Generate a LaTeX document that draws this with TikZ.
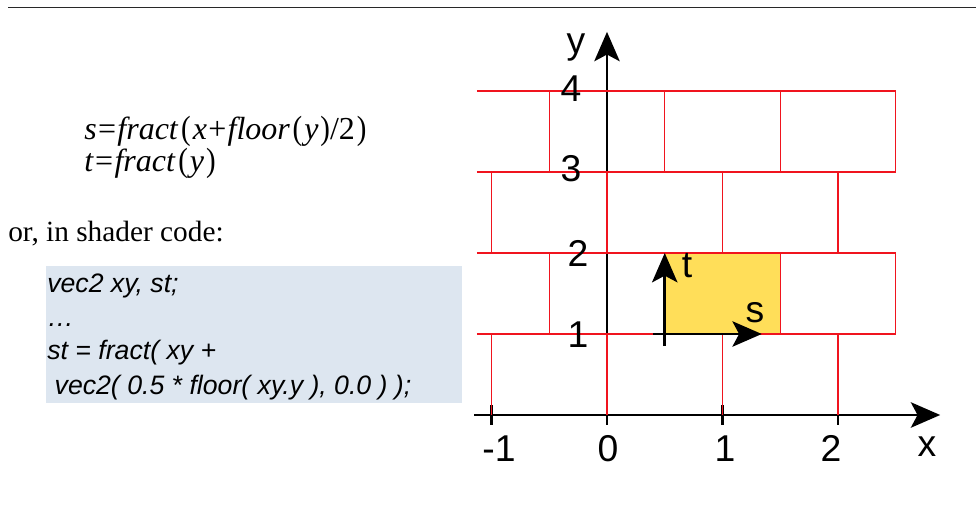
\documentclass[tikz,border=0pt]{standalone}
\usepackage{fontspec}
\setmainfont{Liberation Serif}
\setsansfont{Liberation Sans}
\usepackage{tikz}
\usetikzlibrary{arrows.meta}
\definecolor{brickred}{RGB}{240,20,30}
\definecolor{tilegold}{RGB}{255,222,89}
\definecolor{codebg}{RGB}{221,230,240}
\definecolor{rulegray}{RGB}{40,40,40}
\tikzset{
  axislabel/.style={font=\sffamily\fontsize{28}{28}\selectfont, inner sep=0pt, anchor=base},
  codeline/.style={font=\sffamily\itshape\fontsize{20}{20}\selectfont, inner sep=0pt, anchor=base west},
  formula/.style={font=\fontsize{24}{24}\selectfont, inner sep=0pt, anchor=base west},
  bigtip/.style={-{Stealth[length=22pt, width=19pt, inset=5pt]}}
}
\newcommand{\lp}{\kern2pt\scalebox{0.9}[1.05]{(}\kern1.5pt}
\newcommand{\rp}{\kern1.5pt\scalebox{0.9}[1.05]{)}}
\newcommand{\op}[1]{\kern1pt#1\kern1pt}

\begin{document}
\begin{tikzpicture}[x=0.75pt, y=-0.75pt]
  \useasboundingbox (0,0) rectangle (976,520);

  % === HEADER RULE ===
  \coordinate (ruleL) at (8,7.5);
  \coordinate (ruleR) at (976,7.5);
  \draw[line width=1.2pt, rulegray] (ruleL) -- (ruleR);

  % === FORMULAS ===
  \node[formula] (eqs) at (84,140)
    {\textit{s}\op{=}\textit{fract}\lp\textit{x}\op{+}\textit{floor}\lp\textit{y}\rp/2\rp};
  \node[formula] (eqt) at (84,172)
    {\textit{t}\op{=}\textit{fract}\lp\textit{y}\rp};

  \node[font=\fontsize{22}{22}\selectfont, inner sep=0pt, anchor=base west]
    (intro) at (8,242) {or, in shader code:};

  % Shader code box
  \fill[codebg] (46,266) rectangle (462,403);
  \foreach \yb/\txt/\nm in {
    293/{vec2 xy, st;}/cA,
    327/{…}/cB,
    360/{st = fract( xy +}/cC,
    395/{\ vec2( 0.5 * floor( xy.y ), 0.0 ) );}/cD} {
    \node[codeline] (\nm) at (47,\yb) {\txt};
  }

  % === BRICK PLOT ===
  \begin{scope}[shift={(607,415)}, x=86.625pt, y=60.75pt]

    % Axes
    \coordinate (xstart) at (-1.15,0);
    \coordinate (xend) at (2.885,0);
    \coordinate (ystart) at (0,-0.12);
    \coordinate (yend) at (0,4.73);
    \draw[line width=2.2pt, bigtip] (xstart) -- (xend);
    \draw[line width=2.2pt, bigtip] (ystart) -- (yend);

    % Ticks
    \foreach \t in {-1,1,2} {
      \draw[line width=2pt] (\t,-0.12) -- (\t,0.12);
    }
    \foreach \t in {2,4} {
      \draw[line width=2pt] (-0.087,\t) -- (0.095,\t);
    }

    % Highlighted tile
    \fill[tilegold] (0.5,1) rectangle (1.5,2);

    % Bricks: rows shifted by half a brick
    \foreach \r in {1,...,4} {
      \draw[brickred, line width=0.9pt] (-1.126,\r) -- (2.5,\r);
    }
    \foreach \r/\off in {0/0, 1/0.5, 2/0, 3/0.5} {
      \foreach \c in {-1,0,1,2} {
        \draw[brickred, line width=0.9pt]
          (\c+\off,\r) -- (\c+\off,\r+1);
      }
    }

    % Tile coordinates s and t
    \coordinate (sorig) at (0.4,1);
    \coordinate (send) at (1.34,1);
    \coordinate (torig) at (0.5,0.85);
    \coordinate (tend) at (0.5,2.0);
    \draw[line width=2.2pt, bigtip] (sorig) -- (send);
    \draw[line width=2.2pt, bigtip] (torig) -- (tend);
  \end{scope}

  % Axis labels
  \foreach \px/\lab/\nm in {499/-1/xm, 608/0/xz, 725/1/xa, 831/2/xb} {
    \node[axislabel] (\nm) at (\px,462) {\lab};
  }
  \foreach \py/\lab/\nm in {102/4/yd, 182/3/yc, 267/2/yb, 348/1/ya} {
    \node[axislabel] (\nm) at ({\lab<3 ? 578 : 571},\py) {\lab};
  }
  \node[axislabel] (xlab) at (927,457) {x};
  \node[axislabel] (ylab) at (576,54) {y};
  \node[axislabel] (slab) at (755,323) {s};
  \node[axislabel] (tlab) at (687,278) {t};

\end{tikzpicture}
\end{document}
